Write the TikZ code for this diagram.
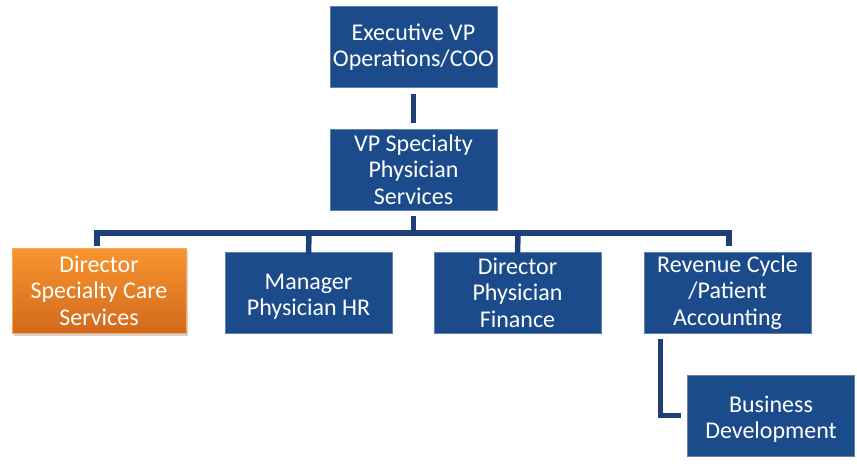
\documentclass[tikz,border=0pt]{standalone}
\usepackage{fontspec}
\setmainfont{Carlito}
\usetikzlibrary{shadows}
\definecolor{boxblue}{HTML}{1B4B8A}
\definecolor{lineblue}{HTML}{1D3F75}
\definecolor{orangetop}{HTML}{F8952F}
\definecolor{orangebot}{HTML}{D2691C}
\newcommand{\lowstrut}{\rule{0pt}{24pt}}
\tikzset{
  x=1pt, y=-1pt,
  orgbox/.style={fill=boxblue, draw=boxblue!70!white, line width=0.6pt, text=white, minimum width=167pt, minimum height=81pt, align=center, inner sep=2pt, font=\fontsize{24}{26.5}\selectfont},
  orangebox/.style={orgbox, draw=orangetop!80!white, top color=orangetop, bottom color=orangebot, minimum width=174pt, minimum height=85pt, drop shadow={shadow xshift=2pt, shadow yshift=-3pt, opacity=0.35}},
  conn/.style={draw=lineblue, line width=5.5pt}
}
\begin{document}
\begin{tikzpicture}
\useasboundingbox (0,0) rectangle (857,466);
\node[orgbox] (coo) at (413.5,47) {Executive VP\\Operations/COO};
\node[orgbox] (vp) at (413.5,169.5) {VP Specialty\\Physician\\Services};
\node[orangebox] (dsc) at (99,290.5) {Director\\Specialty Care\\Services};
\node[orgbox] (hr) at (308.5,292.5) {\lowstrut Manager\\Physician HR};
\node[orgbox] (fin) at (517.5,292.5) {Director\\Physician\\Finance};
\node[orgbox] (rev) at (727.5,292.5) {Revenue Cycle\\/Patient\\Accounting};
\node[orgbox] (bd) at (771,415.5) {\lowstrut Business\\Development};
\coordinate (bus) at (413.5,233);
\draw[conn] ([yshift=-6pt]coo.south) -- ([yshift=6pt]vp.north);
\draw[conn] ([yshift=-6pt]vp.south) -- (bus);
\draw[conn] (97,246) |- (bus) -| (729,246);
\draw[conn] (309,233) -- ([yshift=-2pt]hr.north);
\draw[conn] (518,233) -- ([yshift=-2pt]fin.north);
\draw[conn] ([xshift=-67pt,yshift=-6pt]rev.south) |- ([xshift=-6pt]bd.west);
\end{tikzpicture}
\end{document}
